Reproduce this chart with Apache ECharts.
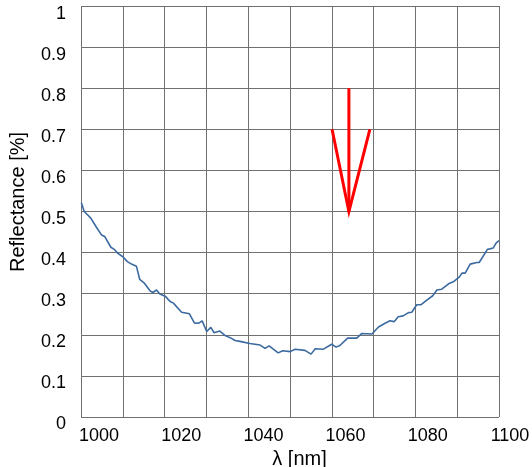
<!DOCTYPE html>
<html>
<head>
<meta charset="utf-8">
<script src="https://cdn.jsdelivr.net/npm/echarts@6/dist/echarts.min.js"></script>
<style>html,body{margin:0;padding:0;background:#fff}#c{width:532px;height:467px}</style>
</head>
<body>
<div id="c"></div>
<script>
// Wavelength [nm] and reflectance values
var wavelength = [995.7,996.4,997.2,998.0,999.3,1000.6,1001.4,1002.9,1003.7,1004.6,1005.8,1006.9,1007.9,1009.1,1009.9,1011.1,1012.4,1013.1,1014.0,1014.8,1016.1,1017.3,1018.1,1020.1,1022.0,1023.2,1024.2,1025.1,1026.2,1027.2,1028.0,1029.4,1030.7,1031.9,1033.1,1034.3,1036.7,1039.2,1040.4,1041.4,1042.4,1043.6,1044.7,1046.5,1047.7,1050.1,1051.6,1052.6,1054.6,1056.6,1057.7,1058.6,1060.5,1062.7,1063.9,1066.4,1068.0,1069.6,1070.8,1071.8,1072.8,1074.0,1075.3,1076.1,1077.3,1078.3,1079.6,1081.2,1082.2,1083.4,1085.2,1086.2,1087.7,1088.3,1089.1,1090.3,1091.9,1092.5,1094.5,1095.1,1095.9,1096.6,1097.3];
var reflectance = [0.521,0.500,0.492,0.484,0.463,0.443,0.439,0.413,0.408,0.398,0.390,0.378,0.372,0.367,0.335,0.325,0.307,0.303,0.309,0.299,0.294,0.281,0.277,0.255,0.251,0.229,0.228,0.234,0.208,0.218,0.205,0.209,0.198,0.193,0.186,0.184,0.179,0.175,0.167,0.173,0.165,0.156,0.161,0.159,0.165,0.162,0.153,0.166,0.165,0.177,0.170,0.174,0.192,0.192,0.203,0.202,0.219,0.228,0.234,0.232,0.244,0.246,0.254,0.255,0.273,0.273,0.283,0.295,0.309,0.311,0.325,0.329,0.341,0.350,0.350,0.372,0.376,0.376,0.408,0.409,0.411,0.423,0.429];
// Tick labels
var xTicks = [1000, 1020, 1040, 1060, 1080, 1100];
var yTicks = [0, 0.1, 0.2, 0.3, 0.4, 0.5, 0.6, 0.7, 0.8, 0.9, 1];
// Arrow annotation (data coordinates)
var arrowShaft = [[1060.8, 0.8], [1060.8, 0.5]];
var arrowHead = [[1056.7, 0.7], [1060.8, 0.5], [1065.9, 0.7]];

var FONT = "'Liberation Sans', Arial, sans-serif";
var chart = echarts.init(document.getElementById('c'));
var curve = wavelength.map(function (w, i) { return [w, reflectance[i]]; });

chart.setOption({
  animation: false,
  backgroundColor: '#fff',
  grid: [
    {left: 81, top: 6, width: 418, height: 411, containLabel: false, outerBoundsMode: 'none'},
    {left: 99, right: 22, top: 14, bottom: 43, containLabel: false, outerBoundsMode: 'none'}
  ],
  xAxis: [
    {gridIndex: 0, type: 'value', min: 0, max: 10, interval: 1,
     axisLine: {show: false}, axisTick: {show: false}, axisLabel: {show: false},
     splitLine: {show: true, lineStyle: {color: '#707070', width: 1}}},
    {gridIndex: 0, type: 'value', min: 995.62, max: 1097.32, show: false},
    {gridIndex: 1, type: 'value', min: xTicks[0], max: xTicks[xTicks.length - 1], interval: 20,
     axisLine: {show: false}, axisTick: {show: false}, splitLine: {show: false},
     axisLabel: {show: true, fontSize: 18, color: '#000', fontFamily: FONT, margin: 3,
                 showMinLabel: true, showMaxLabel: true,
                 formatter: function (v) { return String(v); }},
     name: 'λ [nm]', nameLocation: 'middle', nameGap: 20,
     nameTextStyle: {fontSize: 20, color: '#000', fontFamily: FONT, padding: [0, 10, 0, 0]}}
  ],
  yAxis: [
    {gridIndex: 0, type: 'value', min: 0, max: 1, interval: 0.1,
     axisLine: {show: false}, axisTick: {show: false}, axisLabel: {show: false},
     splitLine: {show: true, lineStyle: {color: '#707070', width: 1}}},
    {gridIndex: 1, type: 'value', min: yTicks[0], max: yTicks[yTicks.length - 1], interval: 0.1,
     axisLine: {show: false}, axisTick: {show: false}, splitLine: {show: false},
     axisLabel: {show: true, fontSize: 18, color: '#000', fontFamily: FONT, margin: 33,
                 showMinLabel: true, showMaxLabel: true,
                 formatter: function (v) { return String(Math.round(v * 10) / 10); }},
     name: 'Reflectance [%]', nameLocation: 'middle', nameGap: 71,
     nameTextStyle: {fontSize: 20, color: '#000', fontFamily: FONT, padding: [0, 0, 0, 34]}}
  ],
  series: [
    {type: 'line', xAxisIndex: 1, yAxisIndex: 0, data: curve, showSymbol: false, symbol: 'none',
     lineStyle: {color: '#3b6aa0', width: 1.6}, silent: true},
    {type: 'line', xAxisIndex: 1, yAxisIndex: 0, data: arrowShaft, symbol: 'none',
     lineStyle: {color: '#ff0000', width: 3}, silent: true},
    {type: 'line', xAxisIndex: 1, yAxisIndex: 0, data: arrowHead, symbol: 'none',
     lineStyle: {color: '#ff0000', width: 3, join: 'miter'}, silent: true}
  ]
});
</script>
</body>
</html>
